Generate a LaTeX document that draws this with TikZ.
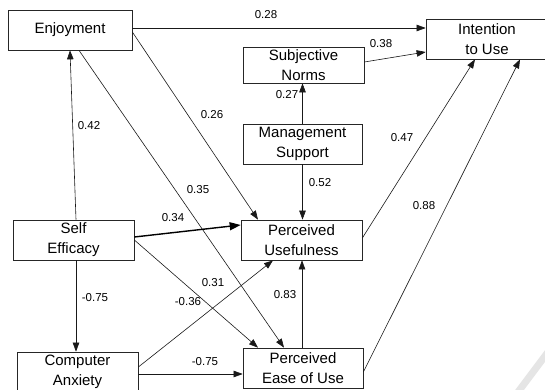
\documentclass[tikz,border=0pt]{standalone}
\usepackage{fontspec}
\setmainfont{Liberation Sans}
\usetikzlibrary{arrows.meta}
\begin{document}
\begin{tikzpicture}[x=1pt,y=-1pt,
  box/.style={draw=black!85,line width=0.7pt,fill=white,inner sep=0pt,align=center,
    font=\fontsize{15}{20}\selectfont,minimum width=121pt,minimum height=40pt},
  conn/.style={draw=black!90,line width=0.6pt,-{Triangle[length=9pt,width=6.5pt]}},
  thickconn/.style={draw=black,line width=1.4pt,-{Triangle[length=11pt,width=8pt]}},
  lbl/.style={font=\fontsize{11.5}{13}\selectfont,inner sep=0pt}]
\useasboundingbox (0,0) rectangle (545,390);
\fill[white] (0,0) rectangle (545,390);
% watermark
\draw[black!10,line width=7pt] (518,392) -- (548,352);

% boxes
\node[box,minimum width=124pt] (E) at (70,30) {Enjoyment};
\node[box,minimum width=122pt] (I) at (487,39) {Intention\\to Use};
\node[box,minimum height=36pt] (SN) at (303.5,65) {Subjective\\Norms};
\node[box,minimum width=119pt] (MS) at (302.5,144) {Management\\Support};
\node[box] (SE) at (73.5,240) {Self\\Efficacy};
\node[box] (CA) at (77.5,372) {Computer\\Anxiety};
\node[box] (PU) at (301.5,240) {Perceived\\Usefulness};
\node[box,minimum width=120pt] (PEOU) at (303,368) {Perceived\\Ease of Use};

% connectors
\draw[conn] ([yshift=2pt]E.east) -- ([yshift=11pt]I.west);
\draw[conn] ([yshift=3pt]SN.east) -- ([yshift=-13pt]I.west);
\draw[conn] (MS.north) -- (MS.north |- SN.south);
\draw[conn] ([yshift=-2pt]E.east) -- ([xshift=-43.5pt]PU.north);
\draw[conn] ([xshift=9pt]E.south) -- ([xshift=-19pt]PEOU.north);
\draw[conn] ([xshift=2.5pt]SE.north) -- (E.south);
\draw[conn] (MS.south) -- (MS.south |- PU.north);
\draw[conn] ([yshift=2pt]PU.east) -- ([xshift=-12pt]I.south);
\draw[conn] ([yshift=-4pt]PEOU.east) -- ([xshift=33pt]I.south);
\draw[thickconn] ([yshift=3pt]SE.east) -- ([yshift=15pt]PU.west);
\draw[conn] (SE.east) -- ([xshift=-45pt]PEOU.north);
\draw[conn] ([xshift=2.5pt]SE.south) -- ([xshift=-1.5pt]CA.north);
\draw[conn] ([yshift=5pt]CA.east) -- ([xshift=-28.5pt]PU.south);
\draw[conn] ([yshift=-2pt]CA.east) -- ([yshift=-6pt]PEOU.west);
\draw[conn] ([xshift=-1pt]PEOU.north) -- ([xshift=0.5pt]PU.south);

% labels
\node[lbl] (l1) at (266,15) {0.28};
\node[lbl] (l2) at (381,44) {0.38};
\node[lbl] (l3) at (287,95) {0.27};
\node[lbl] (l4) at (402,138) {0.47};
\node[lbl] (l5) at (320,183) {0.52};
\node[lbl] (l6) at (212,115) {0.26};
\node[lbl] (l7) at (89,126) {0.42};
\node[lbl] (l8) at (198,190) {0.35};
\node[lbl] (l9) at (173,218) {0.34};
\node[lbl] (l10) at (213,283) {0.31};
\node[lbl] (l11) at (188,302) {-0.36};
\node[lbl] (l12) at (95,298) {-0.75};
\node[lbl] (l13) at (205,362) {-0.75};
\node[lbl] (l14) at (285,295) {0.83};
\node[lbl] (l15) at (424,206) {0.88};
\end{tikzpicture}
\end{document}
